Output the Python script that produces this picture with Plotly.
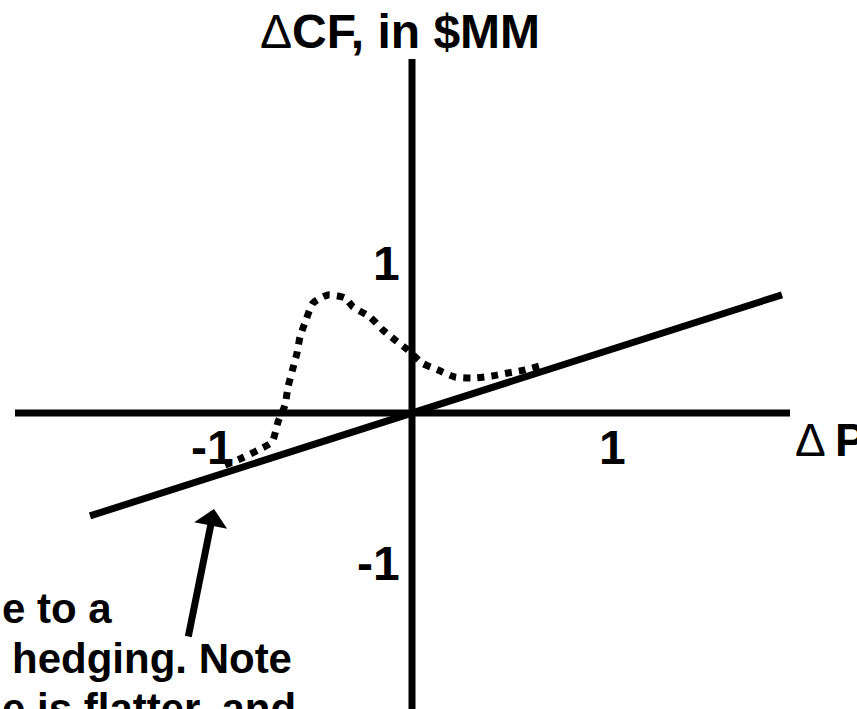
import plotly.graph_objects as go

# ---- data (in chart units) ----
line_x = [-1.61, 1.85]
line_y = [-0.686, 0.788]

dot_x = [-0.935, -0.85, -0.77, -0.70, -0.67, -0.635, -0.62, -0.595, -0.575, -0.56,
         -0.53, -0.495, -0.42, -0.335, -0.295, -0.21, -0.145, -0.085, -0.02, 0.05,
         0.13, 0.215, 0.305, 0.40, 0.48, 0.565, 0.655]
dot_y = [-0.347, -0.30, -0.247, -0.193, -0.06, 0.053, 0.173, 0.30, 0.40, 0.507,
         0.62, 0.733, 0.787, 0.767, 0.707, 0.64, 0.553, 0.487, 0.42, 0.333,
         0.287, 0.24, 0.233, 0.247, 0.267, 0.287, 0.32]

x_tick_vals = [-1, 1]
x_tick_text = ["-1", "1"]
y_tick_vals = [1, -1]
y_tick_text = ["1", "-1"]

axis_x_extent = [-1.985, 1.89]
axis_y_extent = [2.36, -2.1]

title_text = "<span style='font-weight:normal'>Δ</span>CF, in $MM"
xlabel_text = "<span style='font-weight:normal'>Δ</span>\u2009P"
note_lines = ["e to a", "hedging. Note", "e is flatter, and"]
note_left_px = [0, 10, 0]
note_baseline_px = [623, 673, 723]

arrow_head = (-0.99, -0.64)
arrow_tail = (-1.12, -1.5)

W, H = 857, 709
X_RANGE = [-412 / 200, (W - 412) / 200]
Y_RANGE = [(413 - H) / 150, 413 / 150]

FONT = "Liberation Sans, Arial, sans-serif"

fig = go.Figure()

fig.add_trace(go.Scatter(x=line_x, y=line_y, mode="lines",
                         line=dict(color="black", width=7), hoverinfo="skip"))
fig.add_trace(go.Scatter(x=dot_x, y=dot_y, mode="lines",
                         line=dict(color="black", width=7, dash="dot",
                                   shape="spline", smoothing=0.6),
                         hoverinfo="skip"))

# axes as lines
fig.add_shape(type="line", x0=axis_x_extent[0], x1=axis_x_extent[1], y0=0, y1=0,
              line=dict(color="black", width=7), layer="above")
fig.add_shape(type="line", x0=0, x1=0, y0=axis_y_extent[0], y1=axis_y_extent[1],
              line=dict(color="black", width=7), layer="above")

annotations = []
for v, t in zip(x_tick_vals, x_tick_text):
    annotations.append(dict(x=v, y=0, xref="x", yref="y", text="<b>%s</b>" % t,
                            showarrow=False, xanchor="center", yanchor="top",
                            yshift=-6, font=dict(family=FONT, size=48, color="black")))
for v, t in zip(y_tick_vals, y_tick_text):
    annotations.append(dict(x=0, y=v, xref="x", yref="y", text="<b>%s</b>" % t,
                            showarrow=False, xanchor="right", yanchor="middle",
                            xshift=-10, font=dict(family=FONT, size=48, color="black")))

annotations.append(dict(x=400 / W, y=1 - 31 / H, xref="paper", yref="paper",
                        text="<b>%s</b>" % title_text, showarrow=False,
                        xanchor="center", yanchor="middle",
                        font=dict(family=FONT, size=48, color="black")))
annotations.append(dict(x=793 / W, y=1 - 440 / H, xref="paper", yref="paper",
                        text="<b>%s</b>" % xlabel_text, showarrow=False,
                        xanchor="left", yanchor="middle",
                        font=dict(family=FONT, size=46, color="black")))

for txt, lx, by in zip(note_lines, note_left_px, note_baseline_px):
    annotations.append(dict(x=lx / W, y=1 - (by - 15) / H, xref="paper", yref="paper",
                            text="<b>%s</b>" % txt, showarrow=False,
                            xanchor="left", yanchor="middle",
                            font=dict(family=FONT, size=42, color="black")))

annotations.append(dict(x=arrow_head[0], y=arrow_head[1], ax=arrow_tail[0], ay=arrow_tail[1],
                        xref="x", yref="y", axref="x", ayref="y", text="",
                        showarrow=True, arrowhead=1, arrowsize=0.8, arrowwidth=7,
                        arrowcolor="black"))

fig.update_layout(
    width=W, height=H,
    margin=dict(l=0, r=0, t=0, b=0),
    paper_bgcolor="white", plot_bgcolor="white",
    showlegend=False,
    xaxis=dict(range=X_RANGE, visible=False, fixedrange=True),
    yaxis=dict(range=Y_RANGE, visible=False, fixedrange=True),
    annotations=annotations,
)

fig.write_html("out.html",
               config={"displayModeBar": False},
               post_script="document.body.style.margin='0';document.body.style.overflow='hidden';")
